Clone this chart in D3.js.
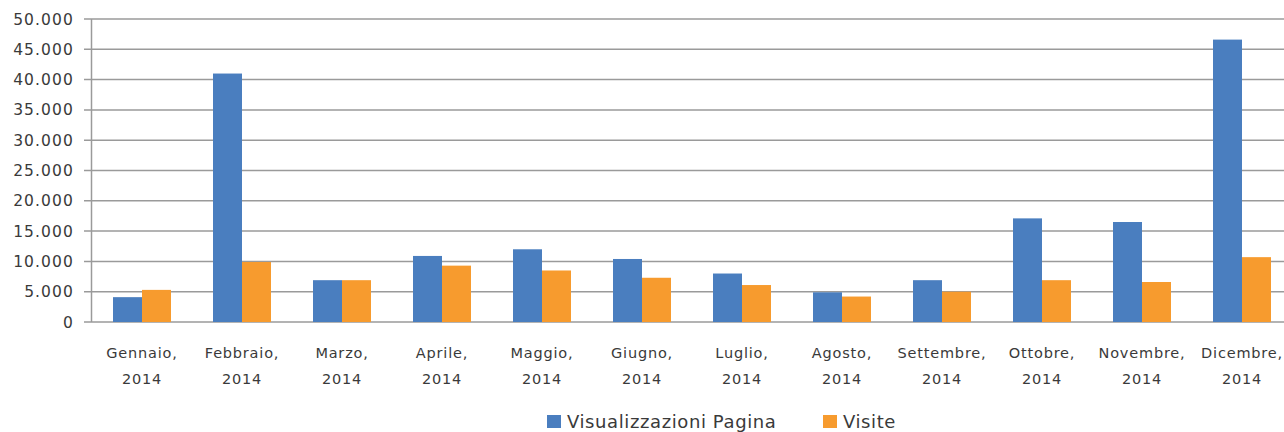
<!DOCTYPE html>
<html><head><meta charset="utf-8">
<script src="https://cdn.jsdelivr.net/npm/d3@7"></script>
<style>
html,body{margin:0;padding:0;background:#fff;}
text{font-family:"DejaVu Sans",sans-serif;fill:#3a3a3a;}
</style></head>
<body><svg id="c" width="1284" height="432"></svg>
<script>
const months = ["Gennaio,","Febbraio,","Marzo,","Aprile,","Maggio,","Giugno,","Luglio,","Agosto,","Settembre,","Ottobre,","Novembre,","Dicembre,"];
const years = ["2014","2014","2014","2014","2014","2014","2014","2014","2014","2014","2014","2014"];
const seriesNames = ["Visualizzazioni Pagina","Visite"];
const pageViews = [4100,41000,6900,10900,12000,10400,8000,4900,6900,17100,16500,46600];
const visits = [5300,9900,6900,9300,8500,7300,6100,4200,5000,6900,6600,10700];
const yTicks = [0,5000,10000,15000,20000,25000,30000,35000,40000,45000,50000];
const colors = ["#4a7ebf","#f79b2e"];

const svg = d3.select("#c");
const pLeft = 92, pRight = 1292, pTop = 19, pBottom = 322;
const x = d3.scaleBand().domain(months).range([pLeft, pRight]).paddingInner(0.42).paddingOuter(0.21);
const xs = d3.scaleBand().domain([0,1]).range([0, x.bandwidth()]);
const y = d3.scaleLinear().domain([0,50000]).range([pBottom, pTop]);
const fmt = d => d3.format(",")(d).replace(/,/g, ".");

// gridlines
svg.append("g").selectAll("line").data(yTicks).join("line")
  .attr("x1", pLeft-8).attr("x2", 1284)
  .attr("y1", d => y(d)).attr("y2", d => y(d))
  .attr("stroke", "#9a9a9a").attr("stroke-width", 1.5);
// y axis line
svg.append("line").attr("x1", pLeft-0.5).attr("x2", pLeft-0.5).attr("y1", pTop).attr("y2", pBottom)
  .attr("stroke", "#9a9a9a").attr("stroke-width", 1.5);
// y labels
svg.append("g").selectAll("text").data(yTicks).join("text")
  .attr("x", 74).attr("y", d => y(d)).attr("dy", "0.36em")
  .attr("text-anchor", "end").style("font-size", "15.5px").style("letter-spacing", "1.1px")
  .text(fmt);

// bars
const data = [pageViews, visits];
months.forEach((m, i) => {
  [0,1].forEach(s => {
    svg.append("rect")
      .attr("x", x(m) + xs(s)).attr("width", xs.bandwidth())
      .attr("y", y(data[s][i])).attr("height", y(0) - y(data[s][i]))
      .attr("fill", colors[s]);
  });
});

// x labels
const cx = d => x(d) + x.bandwidth()/2;
const xl = svg.append("g").selectAll("text").data(months).join("text")
  .attr("y", 358).attr("text-anchor", "middle")
  .style("font-size", "14.5px").style("letter-spacing", "0.8px");
xl.append("tspan").attr("x", cx).text(d => d);
xl.append("tspan").attr("x", cx).attr("dy", 26).text((d,i) => years[i]);

// legend
const lg = svg.append("g");
const lx = [547, 823];
seriesNames.forEach((n, i) => {
  lg.append("rect").attr("x", lx[i]).attr("y", 415).attr("width", 14).attr("height", 13).attr("fill", colors[i]);
  lg.append("text").attr("x", lx[i] + 20).attr("y", 428).style("font-size", "18px").style("letter-spacing", "0.6px").text(n);
});
</script></body></html>
